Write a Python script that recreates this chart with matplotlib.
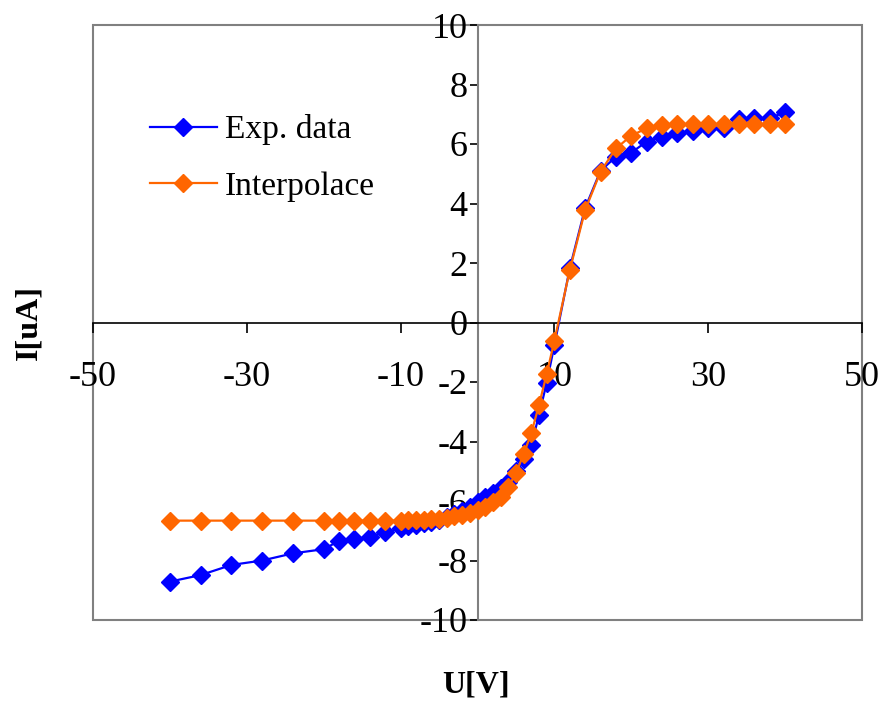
# I-V charakteristika: namerena data a interpolace
import numpy as np
import matplotlib
matplotlib.use('Agg')
import matplotlib.pyplot as plt
from matplotlib.patches import Rectangle

plt.rcParams['font.family'] = ['Liberation Serif', 'DejaVu Serif']
plt.rcParams['axes.unicode_minus'] = False

# Napeti U [V]
u_values = [-40, -36, -32, -28, -24, -20, -18, -16, -14, -12,
            -10, -9, -8, -7, -6, -5, -4, -3, -2, -1,
            0, 1, 2, 3, 4, 5, 6, 7, 8, 9, 10,
            12, 14, 16, 18, 20, 22, 24, 26, 28, 30, 32, 34, 36, 38, 40]

# Proud I [uA] - experimentalni data
i_exp = [-8.71, -8.49, -8.15, -8.00, -7.76, -7.62, -7.34, -7.29, -7.20, -7.05,
         -6.92, -6.85, -6.80, -6.75, -6.70, -6.65, -6.55, -6.45, -6.35, -6.20,
         -6.02, -5.87, -5.72, -5.55, -5.35, -5.00, -4.60, -4.12, -3.11, -2.02, -0.76,
         1.82, 3.85, 5.10, 5.57, 5.71, 6.08, 6.25, 6.36, 6.45, 6.53, 6.55, 6.84, 6.87, 6.87, 7.07]

# Proud I [uA] - interpolace
i_int = [-6.66, -6.66, -6.66, -6.66, -6.66, -6.66, -6.66, -6.66, -6.66, -6.66,
         -6.66, -6.65, -6.64, -6.63, -6.61, -6.59, -6.56, -6.52, -6.47, -6.40,
         -6.30, -6.20, -6.05, -5.85, -5.52, -5.07, -4.42, -3.72, -2.77, -1.73, -0.61,
         1.76, 3.78, 5.07, 5.85, 6.28, 6.53, 6.64, 6.67, 6.67, 6.67, 6.67, 6.66, 6.66, 6.66, 6.66]

x_ticks = [-50, -30, -10, 10, 30, 50]
y_ticks = [-10, -8, -6, -4, -2, 0, 2, 4, 6, 8, 10]

fig = plt.figure(figsize=(8.82, 7.04), dpi=100)
ax = fig.add_axes([93 / 882, 1 - 620 / 704, 769 / 882, 595 / 704])

ax.plot(u_values, i_exp, color='#0000FF', linewidth=1.6, marker='D',
        markersize=9.5, label='Exp. data', zorder=3)
ax.plot(u_values, i_int, color='#FF6600', linewidth=1.6, marker='D',
        markersize=9.5, label='Interpolace', zorder=4)

ax.set_xlim(-50, 50)
ax.set_ylim(-10, 10)
ax.set_xticks(x_ticks)
ax.set_yticks(y_ticks)

# osy prochazi nulou
ax.spines['left'].set_position(('data', 0))
ax.spines['bottom'].set_position(('data', 0))
ax.spines['left'].set_color('#808080')
ax.spines['left'].set_linewidth(1.5)
ax.spines['bottom'].set_color('black')
ax.spines['bottom'].set_linewidth(1.2)
ax.spines['top'].set_visible(False)
ax.spines['right'].set_visible(False)

ax.tick_params(axis='x', direction='out', length=7, width=1.2, pad=21,
               labelsize=26, colors='black')
ax.tick_params(axis='y', direction='out', length=6, width=1.2, pad=1,
               labelsize=26, color='black')

# ramecek kolem grafu
ax.add_patch(Rectangle((0, 0), 1, 1, transform=ax.transAxes, fill=False,
                       edgecolor='#808080', linewidth=1.5, clip_on=False, zorder=1))

ax.legend(loc='upper left', bbox_to_anchor=(0.074, 0.85), frameon=False,
          fontsize=24, handlelength=2.0, handletextpad=0.25, labelspacing=0.78,
          borderpad=0, borderaxespad=0)

fig.text(29 / 882, 1 - 322 / 704, 'I[uA]', rotation=90, ha='center', va='center',
         fontsize=23, fontweight='bold')
fig.text(476 / 882, 1 - 685 / 704, 'U[V]', ha='center', va='center',
         fontsize=23, fontweight='bold')

fig.savefig('out.png', dpi=100)
